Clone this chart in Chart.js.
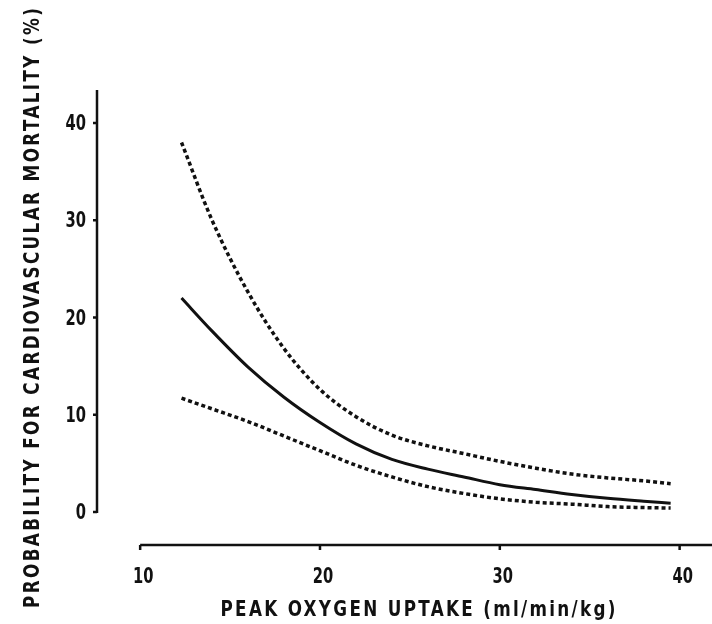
<!DOCTYPE html>
<html>
<head>
<meta charset="utf-8">
<script src="https://cdn.jsdelivr.net/npm/chart.js@4.4.1/dist/chart.umd.min.js"></script>
<style>
  html, body { margin: 0; padding: 0; background: #fff; }
  canvas { display: block; }
</style>
</head>
<body>
<canvas id="chart" width="712" height="624"></canvas>
<script>
// Data
const oxygenUptake = [12.3, 14, 16, 18, 20, 22, 24, 26, 28, 30, 32, 34, 36, 38, 39.5];
const upperBound   = [38.0, 30.0, 22.6, 16.8, 12.6, 9.8, 7.9, 6.8, 6.0, 5.2, 4.5, 3.9, 3.5, 3.2, 2.9];
const mortality    = [22.0, 18.6, 14.9, 11.8, 9.2, 7.0, 5.4, 4.4, 3.6, 2.8, 2.3, 1.8, 1.4, 1.1, 0.9];
const lowerBound   = [11.7, 10.6, 9.3, 7.8, 6.3, 4.8, 3.6, 2.6, 1.9, 1.35, 1.0, 0.8, 0.55, 0.45, 0.4];

const xTicks = [10, 20, 30, 40];
const yTicks = [0, 10, 20, 30, 40];

const xTitle = "PEAK OXYGEN UPTAKE (ml/min/kg)";
const yTitle = "PROBABILITY FOR CARDIOVASCULAR MORTALITY (%)";

const INK = "#111";
const FONT = "bold 21px 'DejaVu Sans', sans-serif";
const SQUEEZE = 0.7; // typewriter-ish narrow lettering

const toPoints = (ys) => oxygenUptake.map((x, i) => ({ x, y: ys[i] }));

// narrow text, anchored at (x, baseline)
function drawNarrow(ctx, text, x, y, align) {
  ctx.save();
  ctx.translate(x, y);
  ctx.scale(SQUEEZE, 1);
  ctx.textAlign = align;
  ctx.textBaseline = "alphabetic";
  ctx.fillText(text, 0, 0);
  ctx.restore();
}

// narrow text stretched to a target length with letter spacing
function drawSpaced(ctx, text, cx, cy, target, angle) {
  ctx.save();
  ctx.translate(cx, cy);
  ctx.rotate(angle);
  ctx.scale(0.8, 1);
  const t = target / 0.8;
  ctx.letterSpacing = "0px";
  const w = ctx.measureText(text).width;
  const s = Math.max(0, (t - w) / (text.length - 1));
  ctx.letterSpacing = s + "px";
  ctx.textAlign = "left";
  ctx.textBaseline = "middle";
  ctx.fillText(text, -(w + s * (text.length - 1)) / 2, 0);
  ctx.restore();
}

// detached x axis, y axis that stops at 0, labels and titles
const manualAxes = {
  id: "manualAxes",
  afterDraw(chart) {
    const { ctx, chartArea, scales: { x, y } } = chart;
    ctx.save();
    ctx.strokeStyle = INK;
    ctx.lineWidth = 2.5;

    const yx = chartArea.left;
    ctx.beginPath();
    ctx.moveTo(yx, y.getPixelForValue(0) + 1);
    ctx.lineTo(yx, chartArea.top);
    yTicks.forEach((v) => {
      const py = y.getPixelForValue(v);
      ctx.moveTo(yx, py);
      ctx.lineTo(yx - 4, py);
    });
    ctx.stroke();

    const xy = chartArea.bottom;
    ctx.beginPath();
    ctx.moveTo(x.getPixelForValue(10), xy);
    ctx.lineTo(chart.width, xy);
    xTicks.forEach((v) => {
      const px = x.getPixelForValue(v);
      ctx.moveTo(px, xy);
      ctx.lineTo(px, xy + 5);
    });
    ctx.stroke();

    ctx.fillStyle = INK;
    ctx.font = FONT;
    yTicks.forEach((v) => drawNarrow(ctx, String(v), 86, y.getPixelForValue(v) + 7, "right"));
    xTicks.forEach((v) => drawNarrow(ctx, String(v), x.getPixelForValue(v) + 3, 583, "center"));

    drawSpaced(ctx, xTitle, 418, 611, 395, 0);
    drawSpaced(ctx, yTitle, 34, 308, 600, -Math.PI / 2);
    ctx.restore();
  },
};

const dashed = { borderDash: [4, 3], borderWidth: 3.5 };

new Chart(document.getElementById("chart"), {
  type: "line",
  data: {
    datasets: [
      { label: "Upper", data: toPoints(upperBound), ...dashed },
      { label: "Mortality", data: toPoints(mortality), borderWidth: 3 },
      { label: "Lower", data: toPoints(lowerBound), ...dashed },
    ].map((d) => ({
      ...d,
      borderColor: INK,
      pointRadius: 0,
      fill: false,
      cubicInterpolationMode: "monotone",
    })),
  },
  options: {
    responsive: false,
    animation: false,
    devicePixelRatio: 1,
    layout: { padding: { top: 90, right: 0, left: 0, bottom: 0 } },
    plugins: { legend: { display: false }, tooltip: { enabled: false } },
    scales: {
      x: {
        type: "linear",
        min: 7.6,
        max: 41.8,
        grid: { display: false },
        border: { display: false },
        ticks: { display: false },
        afterBuildTicks: (s) => { s.ticks = xTicks.map((v) => ({ value: v })); },
        afterFit: (s) => { s.height = 79; },
      },
      y: {
        type: "linear",
        min: -3.4,
        max: 43.4,
        grid: { display: false },
        border: { display: false },
        ticks: { display: false },
        afterBuildTicks: (s) => { s.ticks = yTicks.map((v) => ({ value: v })); },
        afterFit: (s) => { s.width = 97; },
      },
    },
  },
  plugins: [manualAxes],
});
</script>
</body>
</html>
